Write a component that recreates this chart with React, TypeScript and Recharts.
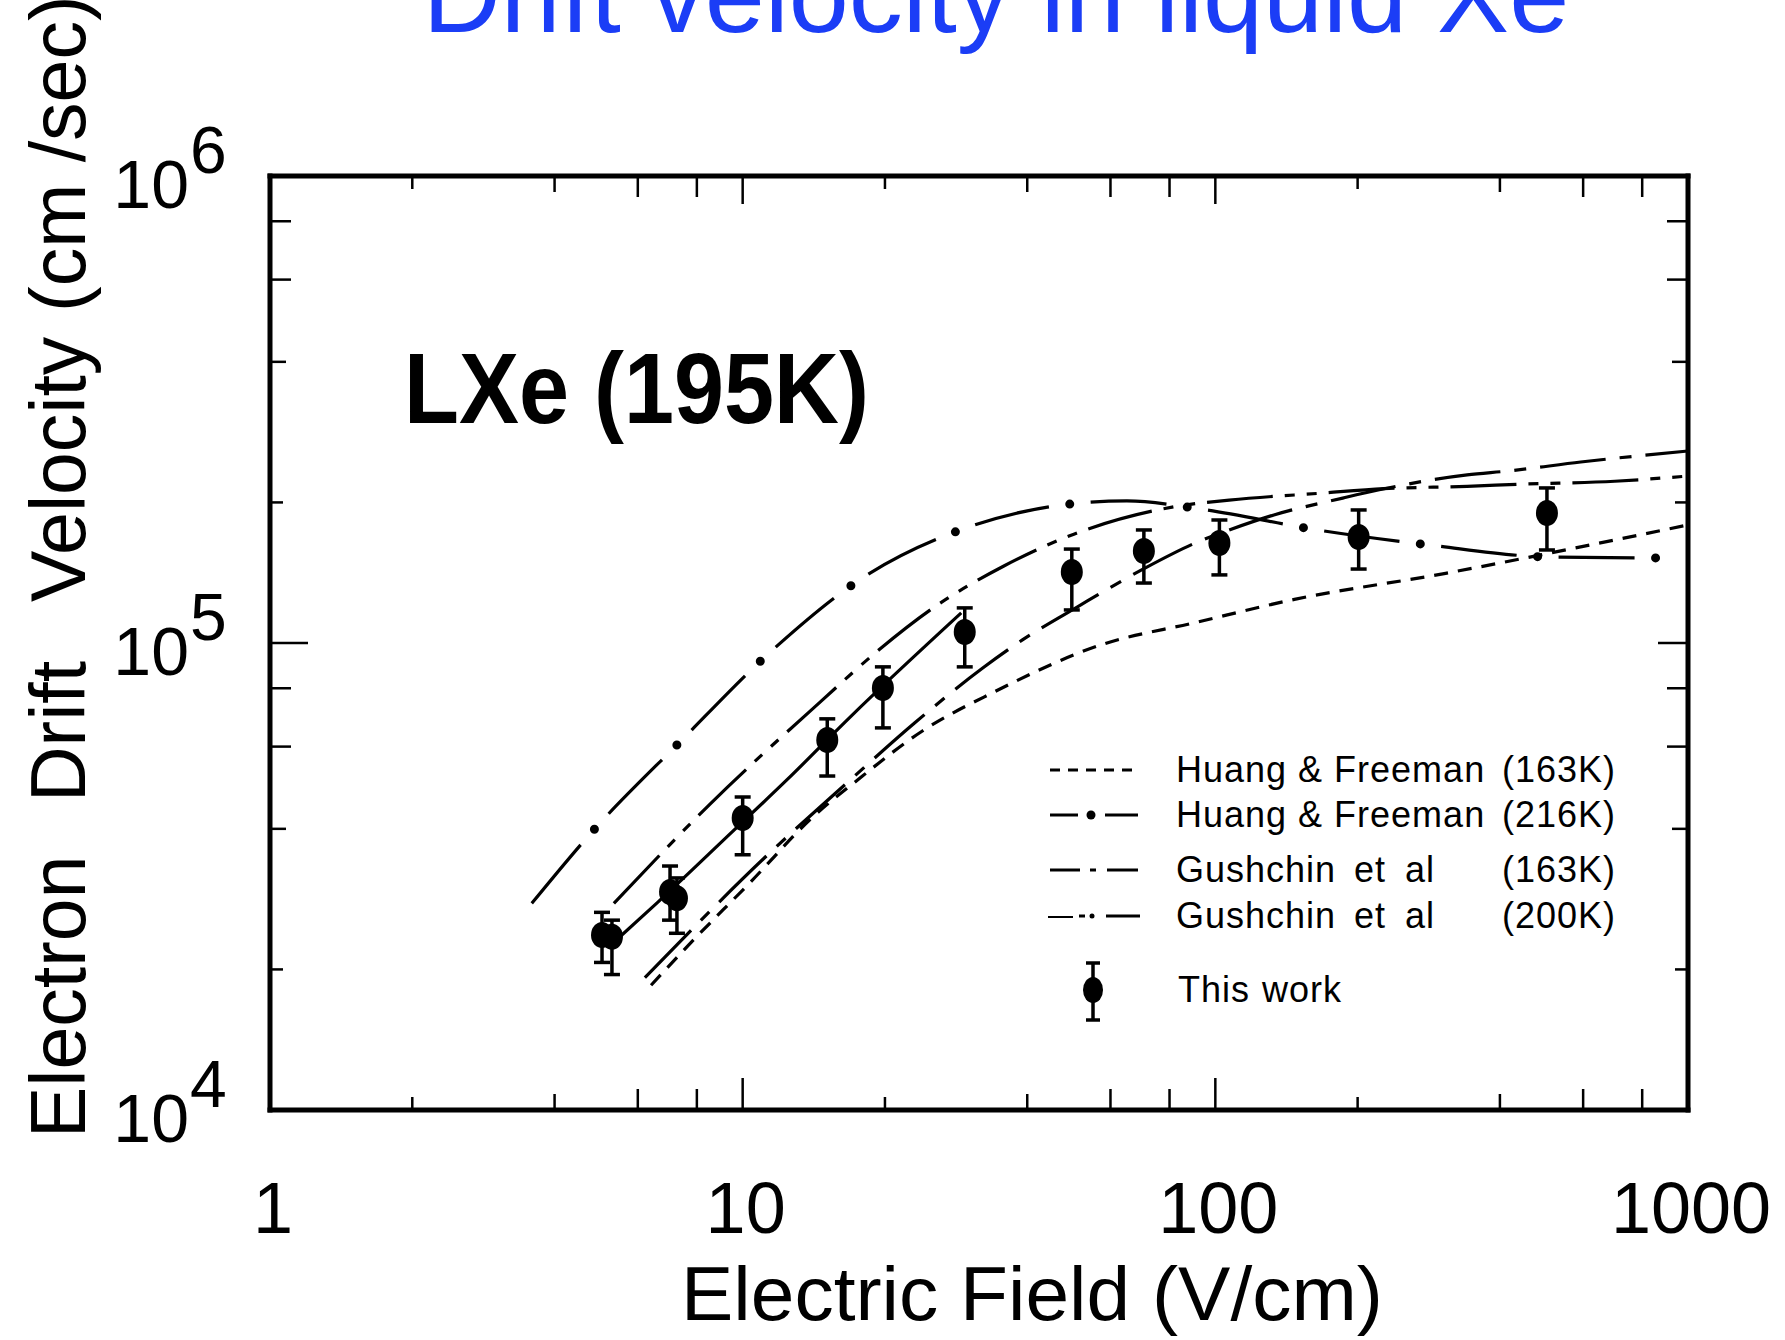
import React from "react";
import { ComposedChart, Line, Scatter, XAxis, YAxis, ErrorBar } from "recharts";

const FONT = "'Liberation Sans', Arial, Helvetica, sans-serif";

// tick values (log axes, ticks at 2,4,6,8 x decade)
const xTicks = [1, 2, 4, 6, 8, 10, 20, 40, 60, 80, 100, 200, 400, 600, 800, 1000];
const yTicks = [1e4, 2e4, 4e4, 6e4, 8e4, 1e5, 2e5, 4e5, 6e5, 8e5, 1e6];
const xDecades = [1, 10, 100, 1000];
const yDecades = [1e4, 1e5, 1e6];

// curves: [field V/cm, velocity cm/s]
const hf163: [number, number][] = [
  [6.4, 18500], [7.7, 22600], [10.4, 30800], [14, 42200], [17.5, 50900],
  [24, 64800], [34, 78500], [58, 99500], [90, 110400], [147, 124000],
  [307, 141000], [600, 161000], [1000, 179000],
];

const hf216: [number, number][] = [
  [3.58, 27700], [4.8, 39400], [7.4, 61700], [11.5, 96100], [17.9, 137700],
  [30, 177000], [52, 199500], [65, 201500], [93, 193600], [160, 175400],
  [286, 162000], [510, 152800], [894, 152100],
];

const gus163: [number, number][] = [
  [6.21, 19200], [11.3, 35200], [16.6, 50100], [23.1, 67400], [32.2, 88400],
  [39, 101400], [51, 119400], [70.3, 143900], [92.7, 165300], [107, 174600],
  [133, 188000], [186, 204300], [221, 212600], [341, 229100], [418, 233600],
  [593, 244100], [1000, 257700],
];

const gus200: [number, number][] = [
  [5.34, 27700], [8.53, 45200], [14.6, 74800], [19.4, 96600], [25.3, 118900],
  [35.7, 146200], [50.2, 171000], [83.7, 196500], [107, 202300], [168, 209400],
  [227, 214000], [341, 216500], [443, 218800], [700, 222000], [1000, 227800],
];

// solid line drawn through the low-field points
const lowFieldLine: [number, number][] = [
  [5.5, 23500], [6.6, 27800], [9.5, 39400], [12.4, 50900], [16.9, 69500], [29, 116000],
];

// This work
const twField = [5.04, 5.29, 7.02, 7.26, 10, 15.1, 19.8, 29.5, 49.7, 70.6, 102, 201, 503];
const twVel = [23700, 23500, 29300, 28400, 42200, 62000, 80100, 105600, 141900, 157400, 163700, 168700, 189800];
const twLow = [20700, 19500, 25500, 23900, 35200, 51900, 65800, 88900, 117700, 134400, 139900, 144000, 158200];
const twHigh = [26500, 25500, 33300, 31400, 46800, 68800, 88900, 118900, 158900, 174600, 183400, 192700, 214800];

const toPoints = (pairs: [number, number][]) => pairs.map(([x, y]) => ({ x, y }));

const thisWork = twField.map((x, i) => ({
  x,
  y: twVel[i],
  err: [twVel[i] - twLow[i], twHigh[i] - twVel[i]],
}));

const mantissa = (v: number) => Math.round(v / Math.pow(10, Math.floor(Math.log10(v) + 1e-9)));

const tickLen = (v: number, major: number) => {
  const m = mantissa(v);
  if (m === 1) return major;
  if (m === 2) return 13;
  if (m === 4) return 16;
  return 21;
};

const BottomTick = (props: any) => {
  const { x, y, payload } = props;
  const v = payload.value;
  return (
    <g>
      <line x1={x} y1={y} x2={x} y2={y - tickLen(v, 32)} stroke="#000" strokeWidth={2.5} />
      {xDecades.includes(v) && (
        <text x={x + 3} y={y + 123} textAnchor="middle" fontFamily={FONT} fontSize={72} fill="#000">
          {v}
        </text>
      )}
    </g>
  );
};

const TopTick = (props: any) => {
  const { x, y, payload } = props;
  return <line x1={x} y1={y} x2={x} y2={y + tickLen(payload.value, 28)} stroke="#000" strokeWidth={2.5} />;
};

const LeftTick = (props: any) => {
  const { x, y, payload } = props;
  const v = payload.value;
  const exp = Math.round(Math.log10(v));
  return (
    <g>
      <line x1={x} y1={y} x2={x + tickLen(v, 38)} y2={y} stroke="#000" strokeWidth={2.5} />
      {yDecades.includes(v) && (
        <g fontFamily={FONT} fill="#000">
          <text x={189} y={y + 32} textAnchor="end" fontSize={68}>10</text>
          <text x={190} y={y - 3} textAnchor="start" fontSize={66}>{exp}</text>
        </g>
      )}
    </g>
  );
};

const RightTick = (props: any) => {
  const { x, y, payload } = props;
  return <line x1={x} y1={y} x2={x - tickLen(payload.value, 30)} y2={y} stroke="#000" strokeWidth={2.5} />;
};

const Marker = (props: any) => {
  const { cx, cy } = props;
  return <ellipse cx={cx} cy={cy} rx={11} ry={13} fill="#000" />;
};

const axisLine = { stroke: "#000", strokeWidth: 5, strokeLinecap: "square" as const };

function Overlay() {
  const legendRows = [
    { y: 770, words: [["Huang & Freeman", 1176]], temp: "(163K)" },
    { y: 815, words: [["Huang & Freeman", 1176]], temp: "(216K)" },
    { y: 870, words: [["Gushchin", 1176], ["et", 1354], ["al", 1405]], temp: "(163K)" },
    { y: 916, words: [["Gushchin", 1176], ["et", 1354], ["al", 1405]], temp: "(200K)" },
  ] as { y: number; words: [string, number][]; temp: string }[];
  return (
    <svg
      width={1785}
      height={1340}
      style={{ position: "absolute", left: 0, top: 0, pointerEvents: "none" }}
      fontFamily={FONT}
    >
      <text x={996} y={32} textAnchor="middle" fontSize={108} fill="#1b3df6">
        Drift velocity in liquid Xe
      </text>
      <g transform="rotate(-90, 85, 1138)" fontSize={77} fill="#000">
        <text x={85} y={1138}>Electron</text>
        <text x={85 + 336} y={1138}>Drift</text>
        <text x={85 + 536} y={1138}>Velocity</text>
        <text x={85 + 826} y={1138}>(cm /sec)</text>
      </g>
      <text x={681} y={1320} fontSize={76} fill="#000" textLength={702} lengthAdjust="spacingAndGlyphs">
        Electric Field (V/cm)
      </text>
      <text x={404} y={423} fontSize={100} fontWeight="bold" fill="#000" textLength={465} lengthAdjust="spacingAndGlyphs">
        LXe (195K)
      </text>

      {/* legend samples */}
      <g stroke="#000" strokeWidth={3} fill="none">
        <line x1={1050} y1={770} x2={1138} y2={770} strokeDasharray="10 8" />
        <line x1={1050} y1={815} x2={1078} y2={815} />
        <line x1={1105} y1={815} x2={1138} y2={815} />
        <line x1={1050} y1={870} x2={1080} y2={870} />
        <line x1={1090} y1={870} x2={1096} y2={870} />
        <line x1={1107} y1={870} x2={1138} y2={870} />
        <line x1={1048} y1={917} x2={1073} y2={917} strokeWidth={2} />
        <line x1={1079} y1={916} x2={1085} y2={916} />
        <line x1={1106} y1={916} x2={1140} y2={916} />
        <line x1={1093} y1={963} x2={1093} y2={1020} strokeWidth={3.5} />
        <line x1={1086} y1={963} x2={1100} y2={963} strokeWidth={3.5} />
        <line x1={1086} y1={1020} x2={1100} y2={1020} strokeWidth={3.5} />
      </g>
      <circle cx={1091} cy={815} r={4.5} fill="#000" />
      <circle cx={1092} cy={916} r={2.5} fill="#000" />
      <ellipse cx={1093} cy={990} rx={10} ry={13} fill="#000" />

      <g fontSize={36} fill="#000" letterSpacing={1}>
        {legendRows.map((r) => (
          <g key={r.y}>
            {r.words.map(([w, x]) => (
              <text key={w} x={x} y={r.y + 12}>{w}</text>
            ))}
            <text x={1502} y={r.y + 12}>{r.temp}</text>
          </g>
        ))}
        <text x={1178} y={1002}>This</text>
        <text x={1262} y={1002}>work</text>
      </g>
    </svg>
  );
}

export default function App() {
  return (
    <div style={{ position: "absolute", left: 0, top: 0, width: 1785, height: 1340, background: "#fff" }}>
      <ComposedChart width={1785} height={1340} margin={{ top: 175, right: 96, bottom: 0, left: 0 }}>
        <XAxis
          dataKey="x"
          type="number"
          scale="log"
          domain={[1, 1000]}
          allowDataOverflow
          ticks={xTicks}
          interval={0}
          height={230}
          tickSize={0}
          tickMargin={0}
          tick={<BottomTick />}
          axisLine={axisLine}
          tickLine={false}
        />
        <XAxis
          xAxisId="top"
          orientation="top"
          dataKey="x"
          type="number"
          scale="log"
          domain={[1, 1000]}
          allowDataOverflow
          ticks={xTicks}
          interval={0}
          height={1}
          tickSize={0}
          tickMargin={0}
          tick={<TopTick />}
          axisLine={axisLine}
          tickLine={false}
        />
        <YAxis
          type="number"
          scale="log"
          domain={[1e4, 1e6]}
          allowDataOverflow
          ticks={yTicks}
          interval={0}
          width={270}
          tickSize={0}
          tickMargin={0}
          tick={<LeftTick />}
          axisLine={axisLine}
          tickLine={false}
        />
        <YAxis
          yAxisId="right"
          orientation="right"
          type="number"
          scale="log"
          domain={[1e4, 1e6]}
          allowDataOverflow
          ticks={yTicks}
          interval={0}
          width={1}
          tickSize={0}
          tickMargin={0}
          tick={<RightTick />}
          axisLine={axisLine}
          tickLine={false}
        />

        {/* invisible series tying the mirrored top/right axes to the plot */}
        <Line
          xAxisId="top"
          yAxisId="right"
          data={toPoints(hf163)}
          dataKey="y"
          stroke="none"
          dot={false}
          activeDot={false}
          legendType="none"
          isAnimationActive={false}
        />

        <Line
          data={toPoints(hf163)}
          dataKey="y"
          type="monotone"
          stroke="#000"
          strokeWidth={3.2}
          strokeDasharray="14 10"
          dot={false}
          activeDot={false}
          isAnimationActive={false}
        />
        <Line
          data={toPoints(hf216)}
          dataKey="y"
          type="monotone"
          stroke="#000"
          strokeWidth={3.2}
          strokeDasharray="76 42"
          dot={false}
          activeDot={false}
          isAnimationActive={false}
        />
        <Line
          data={toPoints(hf216)}
          dataKey="y"
          type="monotone"
          stroke="#000"
          strokeWidth={9}
          strokeLinecap="round"
          strokeDasharray="0 118"
          strokeDashoffset={21}
          dot={false}
          activeDot={false}
          isAnimationActive={false}
        />
        <Line
          data={toPoints(gus163)}
          dataKey="y"
          type="monotone"
          stroke="#000"
          strokeWidth={3.2}
          strokeDasharray="66 14 12 14"
          dot={false}
          activeDot={false}
          isAnimationActive={false}
        />
        <Line
          data={toPoints(gus200)}
          dataKey="y"
          type="monotone"
          stroke="#000"
          strokeWidth={3.2}
          strokeDasharray="66 12 10 12 10 12"
          dot={false}
          activeDot={false}
          isAnimationActive={false}
        />
        <Line
          data={toPoints(lowFieldLine)}
          dataKey="y"
          type="monotone"
          stroke="#000"
          strokeWidth={3.2}
          dot={false}
          activeDot={false}
          isAnimationActive={false}
        />
        <Scatter data={thisWork} dataKey="y" shape={<Marker />} isAnimationActive={false}>
          <ErrorBar dataKey="err" direction="y" width={8} stroke="#000" strokeWidth={3.5} isAnimationActive={false} />
        </Scatter>
      </ComposedChart>
      <Overlay />
    </div>
  );
}
